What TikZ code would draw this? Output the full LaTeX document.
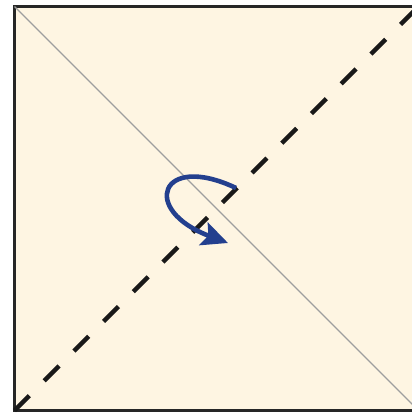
\documentclass[tikz,border=0pt]{standalone}
\usetikzlibrary{arrows.meta}
\definecolor{paper}{HTML}{FEF5E2}
\definecolor{foldblue}{HTML}{233F8E}

\begin{document}
\begin{tikzpicture}[
  x=1pt, y=-1pt,
  sheet/.style={fill=paper, draw=black!85, line width=3pt},
  crease/.style={draw=black!38, line width=1.1pt},
  valley/.style={draw=black!90, line width=4.4pt, dash pattern=on 21pt off 21pt},
  turn/.style={draw=foldblue, line width=4.6pt, -{Stealth[length=26pt, width=24pt, inset=5pt]}}
]
  \useasboundingbox (0,0) rectangle (412,415);
  \clip (0,0) rectangle (412,415);
  \coordinate (tl) at (14.5,6.5);
  \coordinate (tr) at (418.5,6.5);
  \coordinate (bl) at (14.5,410.5);
  \coordinate (br) at (418.5,410.5);

  \draw [sheet] (tl) rectangle (br);
  \draw [crease] (tl) -- (br);
  \draw [valley] (bl) -- (tr);

  % turn over arrow
  \coordinate (from) at (236,188);
  \coordinate (to) at (228,243);
  \draw [turn] (from) .. controls (160,152) and (140,210) .. (to);
\end{tikzpicture}
\end{document}
